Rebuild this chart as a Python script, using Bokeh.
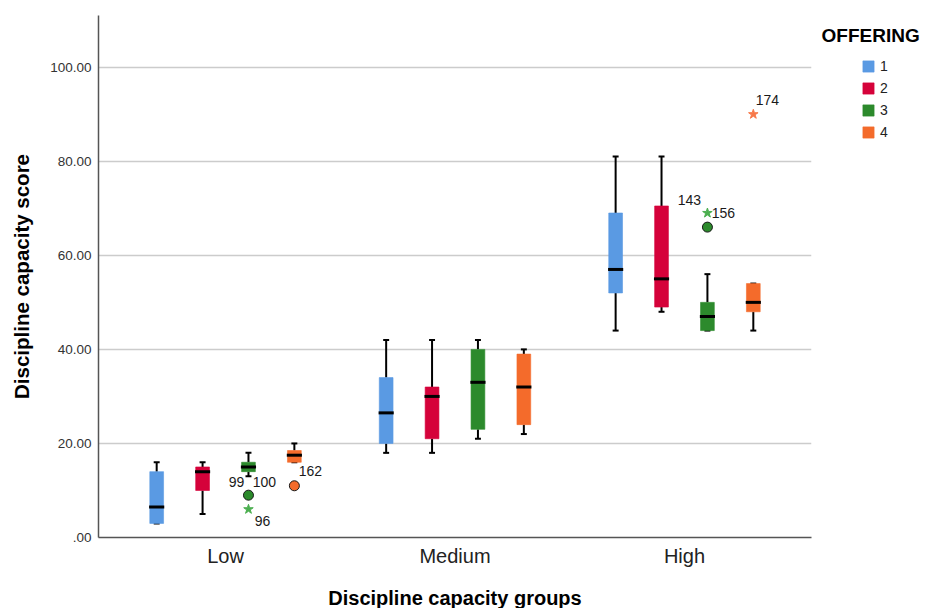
from bokeh.plotting import figure
from bokeh.layouts import row
from bokeh.models import (ColumnDataSource, FactorRange, Range1d, FixedTicker, Legend, LegendItem, Label)
from bokeh.transform import dodge
from bokeh.core.properties import value
from bokeh.embed import file_html
from bokeh.resources import INLINE

groups = ["Low", "Medium", "High"]
offerings = ["1", "2", "3", "4"]
colors = ["#5A9AE3", "#D5023A", "#2C8A2C", "#F46B2B"]
star_colors = ["#5A9AE3", "#D5023A", "#4CAF50", "#F7794A"]

# per offering: values for Low, Medium, High
w_low = {"1": [3, 18, 44], "2": [5, 18, 48], "3": [13, 21, 44], "4": [16, 22, 44]}
q1 = {"1": [3, 20, 52], "2": [10, 21, 49], "3": [14, 23, 44], "4": [16, 24, 48]}
med = {"1": [6.5, 26.5, 57], "2": [14, 30, 55], "3": [15, 33, 47], "4": [17.5, 32, 50]}
q3 = {"1": [14, 34, 69], "2": [15, 32, 70.5], "3": [16, 40, 50], "4": [18.5, 39, 54]}
w_high = {"1": [16, 42, 81], "2": [16, 42, 81], "3": [18, 42, 56], "4": [20, 40, 54]}

# outliers
out_group = ["Low", "Low", "Low", "High", "High", "High"]
out_offering = ["3", "3", "4", "3", "3", "4"]
out_value = [9, 6, 11, 66, 69, 90]
out_kind = ["circle", "star", "circle", "circle", "star", "star"]

# outlier case labels
lab_group = ["Low", "Low", "Low", "Low", "High", "High", "High"]
lab_offering = ["3", "3", "3", "4", "3", "3", "4"]
lab_value = [9, 9, 6, 11, 69, 69, 90]
lab_text = ["99", "100", "96", "162", "143", "156", "174"]
lab_dx = [-12, 16, 14, 16, -18, 16, 14]
lab_dy = [-13, -13, 12, -15, -13, 0, -14]

offsets = {"1": -0.3, "2": -0.1, "3": 0.1, "4": 0.3}
FONT = "Liberation Sans"

p = figure(frame_width=713, frame_height=522, output_backend="svg", toolbar_location=None,
           x_range=FactorRange(*groups, range_padding=0.0357, range_padding_units="percent"),
           y_range=Range1d(0, 111),
           min_border_left=98, min_border_top=15, min_border_bottom=66, min_border_right=5)
p.outline_line_color = None
p.background_fill_color = "white"

for i, o in enumerate(offerings):
    src = ColumnDataSource(dict(group=groups, lo=w_low[o], q1=q1[o], med=med[o], q3=q3[o], hi=w_high[o]))
    off = offsets[o]
    xc = dodge("group", off, range=p.x_range)
    p.segment(x0=xc, y0="q3", x1=xc, y1="hi", source=src, line_color="black", line_width=2)
    p.segment(x0=xc, y0="lo", x1=xc, y1="q1", source=src, line_color="black", line_width=2)
    p.segment(x0=dodge("group", off - 0.013, range=p.x_range), y0="hi",
              x1=dodge("group", off + 0.013, range=p.x_range), y1="hi", source=src,
              line_color="black", line_width=2)
    p.segment(x0=dodge("group", off - 0.013, range=p.x_range), y0="lo",
              x1=dodge("group", off + 0.013, range=p.x_range), y1="lo", source=src,
              line_color="black", line_width=2)
    p.vbar(x=xc, width=0.06, bottom="q1", top="q3", source=src,
           fill_color=colors[i], line_color=colors[i], line_alpha=0.6)
    p.segment(x0=dodge("group", off - 0.033, range=p.x_range), y0="med",
              x1=dodge("group", off + 0.033, range=p.x_range), y1="med", source=src,
              line_color="black", line_width=3)

    idx = [k for k in range(len(out_group)) if out_offering[k] == o]
    for kind in ["circle", "star"]:
        ids = [k for k in idx if out_kind[k] == kind]
        if not ids:
            continue
        osrc = ColumnDataSource(dict(group=[out_group[k] for k in ids], v=[out_value[k] for k in ids]))
        if kind == "circle":
            p.scatter(x=xc, y="v", source=osrc, marker="circle", size=10,
                      fill_color=colors[i], line_color="#1a1a1a", line_width=1)
        else:
            p.scatter(x=xc, y="v", source=osrc, marker="star", size=10,
                      fill_color=star_colors[i], line_color=star_colors[i], line_width=1)

for i, o in enumerate(offerings):
    ids = [k for k in range(len(lab_group)) if lab_offering[k] == o]
    for k in ids:
        ls = ColumnDataSource(dict(group=[lab_group[k]], v=[lab_value[k]], t=[lab_text[k]]))
        p.text(x=dodge("group", offsets[o], range=p.x_range), y="v", text="t", source=ls,
               x_offset=lab_dx[k], y_offset=lab_dy[k], text_align="center", text_baseline="middle",
               text_font=value(FONT), text_font_size="14px", text_color="#1a1a1a")

p.yaxis.ticker = FixedTicker(ticks=[0, 20, 40, 60, 80, 100])
p.yaxis.major_label_overrides = {0: ".00", 20: "20.00", 40: "40.00", 60: "60.00", 80: "80.00", 100: "100.00"}
p.yaxis.major_label_text_font = FONT
p.yaxis.major_label_text_font_size = "13.5px"
p.yaxis.major_label_text_color = "#333333"
p.yaxis.axis_label = "Discipline capacity score"
p.yaxis.axis_label_text_font = FONT
p.yaxis.axis_label_text_font_style = "bold"
p.yaxis.axis_label_text_font_size = "20.5px"
p.yaxis.axis_label_text_color = "black"
p.yaxis.axis_label_standoff = 14
p.yaxis.minor_tick_line_color = None
p.yaxis.major_tick_line_color = None
p.yaxis.major_tick_in = 0
p.yaxis.major_tick_out = 0
p.yaxis.axis_line_color = "#555555"
p.yaxis.axis_line_width = 1.5
p.yaxis.major_label_standoff = 7

p.xaxis.axis_label = "Discipline capacity groups"
p.xaxis.axis_label_text_font = FONT
p.xaxis.axis_label_text_font_style = "bold"
p.xaxis.axis_label_text_font_size = "20px"
p.xaxis.axis_label_text_color = "black"
p.xaxis.axis_label_standoff = 17
p.xaxis.major_label_text_font = FONT
p.xaxis.major_label_text_font_size = "20px"
p.xaxis.major_label_text_color = "#222222"
p.xaxis.major_label_standoff = 7
p.xaxis.major_tick_line_color = None
p.xaxis.major_tick_in = 0
p.xaxis.major_tick_out = 0
p.xaxis.minor_tick_line_color = None
p.xaxis.axis_line_color = "#555555"
p.xaxis.axis_line_width = 1.5

p.xgrid.grid_line_color = None
p.ygrid.grid_line_color = "#cccccc"
p.ygrid.grid_line_width = 1.5

# legend panel (its frame is aligned with the main frame: 522 px tall)
LW, LH = 108, 522
leg = figure(width=LW, height=600, output_backend="svg", toolbar_location=None,
             x_range=Range1d(0, LW), y_range=Range1d(0, LH),
             x_axis_location=None, y_axis_location=None,
             min_border=0, min_border_left=0, min_border_right=0, min_border_top=0, min_border_bottom=0)
leg.outline_line_color = None
leg.grid.grid_line_color = None

items = []
for i, o in enumerate(offerings):
    # zero-size placeholder bar: only its legend swatch is visible
    r = leg.vbar(x=[0], top=[0], bottom=[0], width=0, fill_color=colors[i],
                 line_color=colors[i], line_alpha=0.6)
    items.append(LegendItem(label=o, renderers=[r]))

legend = Legend(items=items, location=(45, 386), glyph_width=14, glyph_height=14,
                label_height=14, spacing=6, label_text_font=FONT, label_text_font_size="14px",
                label_text_color="#222222", border_line_color=None, background_fill_alpha=0,
                padding=0, margin=0, label_standoff=5)
leg.add_layout(legend)

leg.add_layout(Label(x=5, y=502, text="OFFERING", text_font=FONT, text_font_style="bold",
                     text_font_size="19px", text_baseline="middle", text_color="black"))

open("out.html", "w").write(file_html(row(p, leg), INLINE))
